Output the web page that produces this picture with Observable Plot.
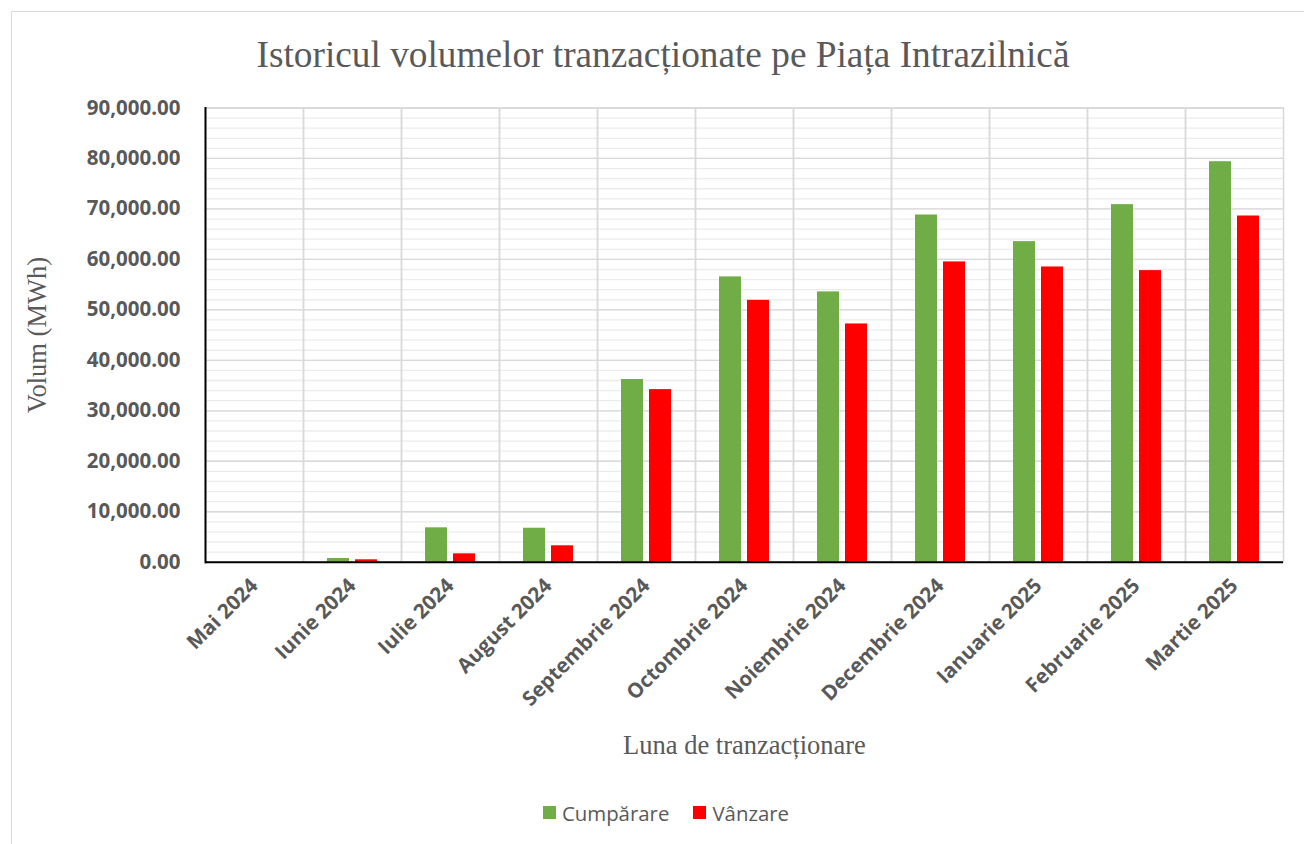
<!DOCTYPE html>
<html>
<head>
<meta charset="utf-8">
<script src="https://cdn.jsdelivr.net/npm/d3@7"></script>
<script src="https://cdn.jsdelivr.net/npm/@observablehq/plot@0.6"></script>
<style>
  html, body { margin: 0; padding: 0; background: #fff; overflow: hidden; }
  #border { position: absolute; left: 11px; top: 11px; width: 1400px; height: 1000px; border: 1.3px solid #d9d9d9; box-sizing: border-box; pointer-events: none; }
  #title { height: 44px; padding-top: 36px; padding-left: 22px; width: 1282px; text-align: center; font-family: "Liberation Serif", serif; font-size: 37.3px; line-height: 37px; color: #595959; white-space: nowrap; }
  #chart svg { display: block; }
  #chart g[aria-label="y-axis label"] text, #chart g[aria-label="fx-axis label"] text { font-family: "Liberation Serif", serif; font-weight: normal; font-size: 26.5px; }
  #legend { display: flex; justify-content: center; padding-left: 52px; width: 1252px; margin-top: 96px; }
  #legend .lg-swatches { justify-content: center; }
  #legend .lg-swatch { font-family: "Open Sans", sans-serif; font-size: 20.4px; color: #595959; margin-right: 24px; }
  #legend .lg-swatch svg { margin-right: 6px; }
</style>
</head>
<body>
<div id="border"></div>
<div id="title">Istoricul volumelor tranzacționate pe Piața Intrazilnică</div>
<div id="chart"></div>
<div id="legend"></div>
<script>
const months = ["Mai 2024", "Iunie 2024", "Iulie 2024", "August 2024", "Septembrie 2024", "Octombrie 2024", "Noiembrie 2024", "Decembrie 2024", "Ianuarie 2025", "Februarie 2025", "Martie 2025"];
const series = ["Cumpărare", "Vânzare"];
const cumparare = [0, 730, 6810, 6730, 36200, 56530, 53560, 68800, 63520, 70850, 79360];
const vanzare = [0, 475, 1660, 3250, 34200, 51890, 47210, 59500, 58500, 57780, 68600];
const colors = ["#70AD47", "#FF0000"];
const yTicks = [0, 10000, 20000, 30000, 40000, 50000, 60000, 70000, 80000, 90000];
const yMinorTicks = d3.range(0, 90001, 2000);

const rows = [];
months.forEach((m, i) => {
  rows.push({month: m, series: series[0], value: cumparare[i]});
  rows.push({month: m, series: series[1], value: vanzare[i]});
});

const textStyle = {fontFamily: "Open Sans", fontSize: 20.5, fontWeight: "bold", fill: "#595959"};

const chart = Plot.plot({
  width: 1304,
  height: 620,
  marginTop: 27.5,
  marginLeft: 203,
  marginRight: 18.3,
  marginBottom: 138.3,
  style: {background: "transparent", color: "#595959", overflow: "visible"},
  fx: {domain: months, padding: 0},
  x: {domain: series, paddingInner: 0.225, paddingOuter: 0.85, axis: null},
  y: {domain: [0, 90000]},
  color: {domain: series, range: colors},
  marks: [
    Plot.ruleY(yMinorTicks, {stroke: "#ececec", strokeWidth: 1.3}),
    Plot.ruleY(yTicks, {stroke: "#d9d9d9", strokeWidth: 1.3}),
    Plot.frame({stroke: "#d9d9d9", strokeWidth: 1.5}),
    Plot.barY(rows, {fx: "month", x: "series", y: "value", fill: "series"}),
    Plot.ruleY([0], {stroke: "#000", strokeWidth: 2}),
    Plot.frame({anchor: "left", facetAnchor: "left", stroke: "#000", strokeWidth: 2}),
    Plot.axisY({
      ticks: yTicks, tickFormat: d3.format(",.2f"), tickSize: 0, tickPadding: 25,
      ...textStyle,
      label: "Volum (MWh)", labelAnchor: "center", labelOffset: 178, labelArrow: "none"
    }),
    Plot.axisFx({
      anchor: "bottom", tickSize: 0, tickPadding: 20, tickRotate: -45,
      ...textStyle,
      label: "Luna de tranzacționare", labelAnchor: "center", labelOffset: 192, labelArrow: "none"
    })
  ]
});
document.getElementById("chart").appendChild(chart);

const legend = Plot.legend({
  color: {domain: series, range: colors},
  swatchSize: 13,
  className: "lg"
});
document.getElementById("legend").appendChild(legend);
</script>
</body>
</html>
